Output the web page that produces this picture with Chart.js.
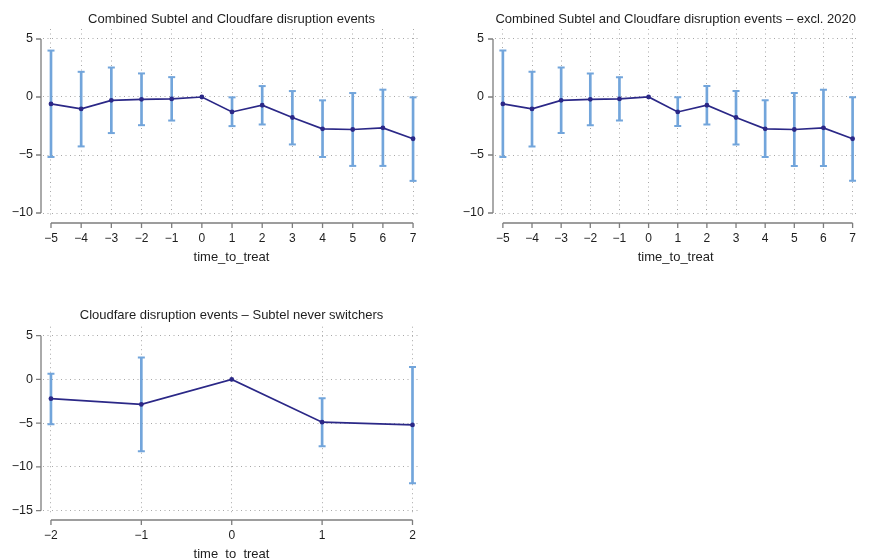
<!DOCTYPE html>
<html>
<head>
<meta charset="utf-8">
<script src="https://cdn.jsdelivr.net/npm/chart.js@4.4.0/dist/chart.umd.min.js"></script>
<style>
html, body { margin: 0; padding: 0; background: #fff; overflow: hidden; width: 869px; height: 558px; }
canvas { position: absolute; }
</style>
</head>
<body>
<canvas id="g1" width="434" height="280" style="left:0;top:0"></canvas>
<canvas id="g2" width="435" height="280" style="left:434px;top:0"></canvas>
<canvas id="g3" width="434" height="290" style="left:0;top:280px"></canvas>
<script>
// event-study coefficients with 95% CI
var timeLong = [-5, -4, -3, -2, -1, 0, 1, 2, 3, 4, 5, 6, 7];
var coefAll = [-0.60, -1.03, -0.29, -0.20, -0.17, 0, -1.29, -0.71, -1.77, -2.74, -2.80, -2.66, -3.60];
var ciLowAll = [-5.17, -4.26, -3.11, -2.43, -2.03, null, -2.51, -2.37, -4.09, -5.17, -5.94, -5.94, -7.23];
var ciHighAll = [4.00, 2.17, 2.54, 2.03, 1.71, null, -0.03, 0.94, 0.51, -0.29, 0.34, 0.63, -0.03];

var coefExcl = [-0.60, -1.03, -0.29, -0.20, -0.17, 0, -1.29, -0.71, -1.77, -2.74, -2.80, -2.66, -3.60];
var ciLowExcl = [-5.17, -4.26, -3.11, -2.43, -2.03, null, -2.51, -2.37, -4.09, -5.17, -5.94, -5.94, -7.23];
var ciHighExcl = [4.00, 2.17, 2.54, 2.03, 1.71, null, -0.03, 0.94, 0.51, -0.29, 0.34, 0.63, -0.03];

var timeShort = [-2, -1, 0, 1, 2];
var coefNever = [-2.19, -2.85, 0, -4.88, -5.19];
var ciLowNever = [-5.12, -8.19, null, -7.62, -11.85];
var ciHighNever = [0.65, 2.50, null, -2.15, 1.42];

var yTicksWide = [-10, -5, 0, 5];
var yTicksNever = [-15, -10, -5, 0, 5];

var FONT = '"Liberation Sans", Arial, Helvetica, sans-serif';
var LINE_COL = '#2b2887';
var CI_COL = '#72a5db';
var GRID_COL = '#a8a8a8';

function minusSign(v) {
    return String(v).replace('-', '\u2212');
}

// Stata-like detached axes + title centred on the plot region
var stataFrame = {
    id: 'stataFrame',
    afterDraw: function (chart, args, opts) {
        var ctx = chart.ctx, a = chart.chartArea;
        var xs = chart.scales.x, ys = chart.scales.y;
        var ax = a.left - 2, ay = a.bottom + 5;
        var yp = ys.ticks.map(function (t) { return ys.getPixelForValue(t.value); });
        var xp = xs.ticks.map(function (t) { return xs.getPixelForValue(t.value); });
        ctx.save();
        ctx.strokeStyle = '#7d7d7d';
        ctx.lineWidth = 1.3;
        ctx.beginPath();
        ctx.moveTo(ax, Math.min.apply(null, yp));
        ctx.lineTo(ax, Math.max.apply(null, yp));
        yp.forEach(function (p) { ctx.moveTo(ax, p); ctx.lineTo(ax - 5, p); });
        ctx.moveTo(Math.min.apply(null, xp), ay);
        ctx.lineTo(Math.max.apply(null, xp), ay);
        xp.forEach(function (p) { ctx.moveTo(p, ay); ctx.lineTo(p, ay + 5); });
        ctx.stroke();
        ctx.fillStyle = '#1e1e1e';
        ctx.font = '13px ' + FONT;
        ctx.textAlign = 'center';
        ctx.textBaseline = 'middle';
        ctx.fillText(opts.text, (a.left + a.right) / 2, a.top - opts.gap);
        ctx.restore();
    }
};

function makePanel(id, p) {
    var pts = function (ys) {
        return p.x.map(function (v, i) { return { x: v, y: ys[i] }; })
            .filter(function (d) { return d.y !== null; });
    };
    var bars = p.x.map(function (v, i) {
        return p.lo[i] === null ? null : { x: v, y: [p.lo[i], p.hi[i]] };
    }).filter(function (d) { return d !== null; });

    return new Chart(document.getElementById(id), {
        type: 'line',
        data: {
            datasets: [{
                label: 'coef',
                data: pts(p.coef),
                borderColor: LINE_COL,
                backgroundColor: LINE_COL,
                borderWidth: 1.7,
                pointRadius: 2.4,
                pointBorderWidth: 0,
                order: 0
            }, {
                type: 'bar',
                label: 'ci',
                data: bars,
                backgroundColor: CI_COL,
                borderWidth: 0,
                barThickness: 2,
                order: 3
            }, {
                type: 'scatter',
                label: 'lo',
                data: pts(p.lo),
                pointStyle: 'line',
                pointRadius: 3.5,
                pointBorderWidth: 2,
                borderColor: CI_COL,
                order: 2
            }, {
                type: 'scatter',
                label: 'hi',
                data: pts(p.hi),
                pointStyle: 'line',
                pointRadius: 3.5,
                pointBorderWidth: 2,
                borderColor: CI_COL,
                order: 2
            }]
        },
        options: {
            responsive: false,
            animation: false,
            events: [],
            layout: { padding: p.pad },
            plugins: {
                legend: { display: false },
                tooltip: { enabled: false },
                stataFrame: { text: p.title, gap: p.titleGap }
            },
            scales: {
                x: {
                    type: 'linear',
                    offset: false,
                    min: p.xMin,
                    max: p.xMax,
                    afterBuildTicks: function (s) { s.ticks = p.x.map(function (v) { return { value: v }; }); },
                    afterFit: function (s) { s.height = p.xH; },
                    border: { display: false, dash: [1, 3.5] },
                    grid: { color: GRID_COL, offset: false, drawTicks: false },
                    ticks: { padding: 13, color: '#1e1e1e', font: { family: FONT, size: 12 }, maxRotation: 0, callback: minusSign },
                    title: { display: true, text: 'time_to_treat', padding: 0, color: '#1e1e1e', font: { family: FONT, size: 13 } }
                },
                y: {
                    min: p.yMin,
                    max: p.yMax,
                    afterBuildTicks: function (s) { s.ticks = p.yTicks.map(function (v) { return { value: v }; }); },
                    afterFit: function (s) { s.width = p.yW; },
                    border: { display: false, dash: [1, 3.5] },
                    grid: { color: GRID_COL, drawTicks: false },
                    ticks: { padding: p.yPad, color: '#1e1e1e', font: { family: FONT, size: 12.5 }, callback: minusSign }
                }
            }
        },
        plugins: [stataFrame]
    });
}

makePanel('g1', {
    title: 'Combined Subtel and Cloudfare disruption events',
    x: timeLong, coef: coefAll, lo: ciLowAll, hi: ciHighAll, yTicks: yTicksWide,
    xMin: -5.265, xMax: 7.23, yMin: -10.43, yMax: 5.86,
    pad: { left: 0, top: 29, right: 14, bottom: 14.8 }, yW: 43, xH: 47.2, yPad: 10, titleGap: 10
});

makePanel('g2', {
    title: 'Combined Subtel and Cloudfare disruption events \u2013 excl. 2020',
    x: timeLong, coef: coefExcl, lo: ciLowExcl, hi: ciHighExcl, yTicks: yTicksWide,
    xMin: -5.27, xMax: 7.13, yMin: -10.43, yMax: 5.86,
    pad: { left: 0, top: 29, right: 1, bottom: 14.8 }, yW: 61, xH: 47.2, yPad: 11, titleGap: 10
});

makePanel('g3', {
    title: 'Cloudfare disruption events \u2013 Subtel never switchers',
    x: timeShort, coef: coefNever, lo: ciLowNever, hi: ciHighNever, yTicks: yTicksNever,
    xMin: -2.088, xMax: 2.083, yMin: -15.49, yMax: 6.03,
    pad: { left: 0, top: 46.7, right: 14, bottom: 7.8 }, yW: 43, xH: 47.2, yPad: 10, titleGap: 11.7
});
</script>
</body>
</html>
